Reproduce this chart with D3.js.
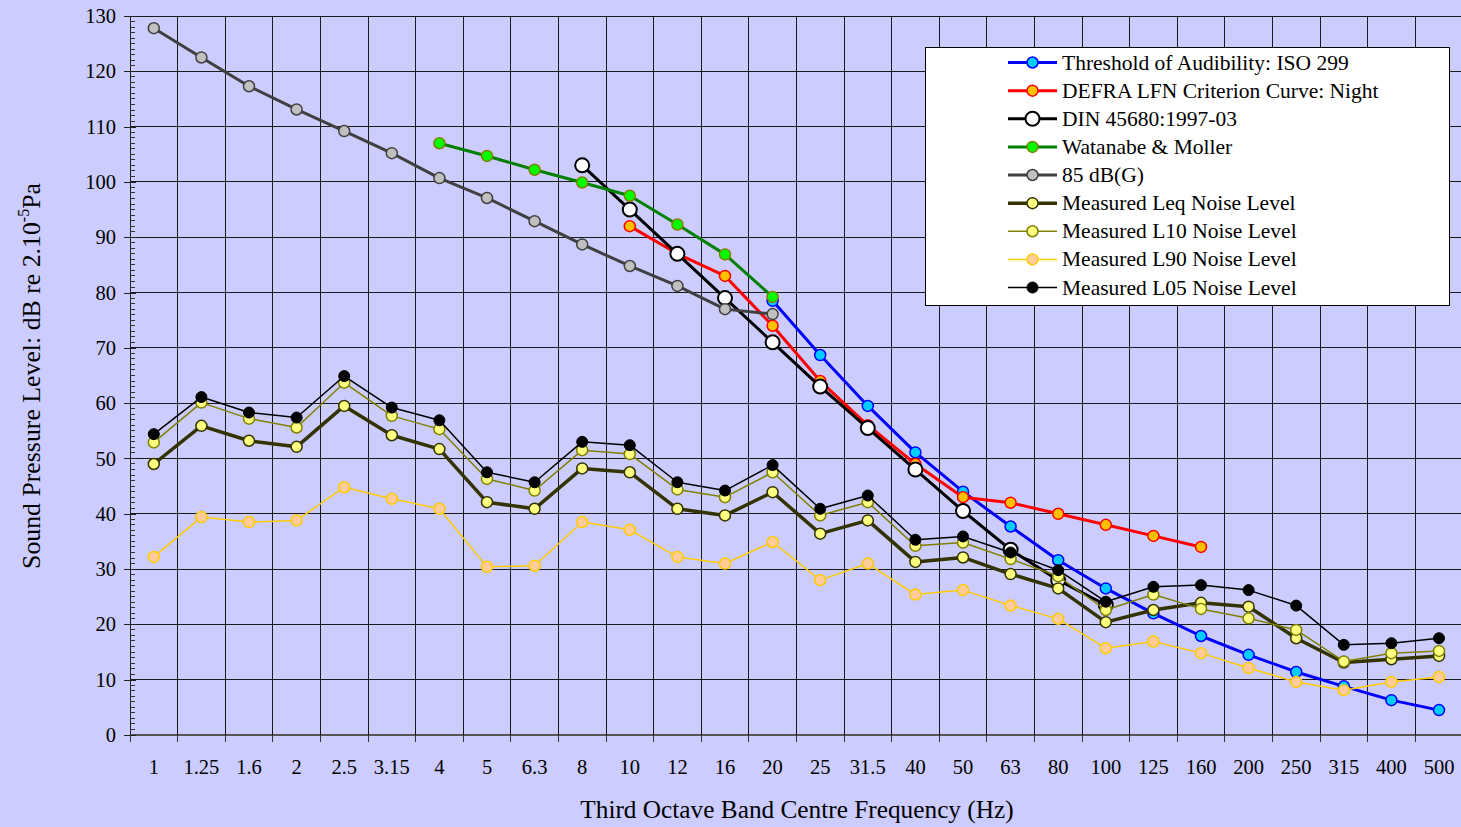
<!DOCTYPE html>
<html><head><meta charset="utf-8">
<script src="https://cdn.jsdelivr.net/npm/d3@7"></script>
<style>
html,body{margin:0;padding:0;background:#ccccff;}
svg{display:block;font-family:"Liberation Serif","Times New Roman",serif;}
</style></head>
<body>
<svg id="chart" width="1461" height="827"></svg>
<script>
const categories = ["1","1.25","1.6","2","2.5","3.15","4","5","6.3","8","10","12","16","20","25","31.5","40","50","63","80","100","125","160","200","250","315","400","500"];
const yTicks = [0,10,20,30,40,50,60,70,80,90,100,110,120,130];

const isoThreshold = [null,null,null,null,null,null,null,null,null,null,null,null,null,78.5,68.7,59.5,51.1,44.0,37.7,31.6,26.5,22.0,17.9,14.5,11.4,8.8,6.3,4.5];
const defraNight   = [null,null,null,null,null,null,null,null,null,null,92,87,83,74,64,56,49,43,42,40,38,36,34,null,null,null,null,null];
const din45680     = [null,null,null,null,null,null,null,null,null,103,95,87,79,71,63,55.5,48,40.5,33.5,28,23.5,null,null,null,null,null,null,null];
const watanabe     = [null,null,null,null,null,null,107,104.7,102.2,99.9,97.5,92.3,86.9,79.2,null,null,null,null,null,null,null,null,null,null,null,null,null,null];
const g85          = [127.8,122.5,117.3,113.1,109.2,105.2,100.7,97.1,92.9,88.7,84.8,81.2,77.0,76.1,null,null,null,null,null,null,null,null,null,null,null,null,null,null];
const leq          = [49.0,55.9,53.2,52.1,59.5,54.2,51.7,42.1,40.9,48.2,47.5,40.9,39.7,43.9,36.4,38.8,31.3,32.1,29.1,26.5,20.4,22.6,23.9,23.2,17.5,13.1,13.7,14.3];
const l10          = [52.9,60.1,57.2,55.6,63.7,57.7,55.3,46.3,44.2,51.5,50.8,44.4,43.0,47.5,39.7,42.1,34.2,34.8,31.8,28.7,22.6,25.4,22.8,21.1,19.0,13.3,14.8,15.2];
const l90          = [32.2,39.4,38.5,38.8,44.8,42.7,40.9,30.4,30.6,38.5,37.1,32.2,31.0,34.9,28.0,31.0,25.4,26.2,23.4,21.0,15.7,16.9,14.8,12.1,9.6,8.1,9.6,10.5];
const l05          = [54.4,61.1,58.3,57.4,64.9,59.2,56.9,47.5,45.7,53.0,52.4,45.7,44.2,48.8,40.9,43.3,35.3,35.9,33.0,29.8,24.1,26.8,27.1,26.2,23.4,16.3,16.6,17.5];

const seriesNames = ["Threshold of Audibility: ISO 299","DEFRA LFN Criterion Curve: Night","DIN 45680:1997-03","Watanabe & Moller","85 dB(G)","Measured Leq Noise Level","Measured L10 Noise Level","Measured L90 Noise Level","Measured L05 Noise Level"];

const styles = [
  {line:"#0000ff", w:3,   fill:"#00ccff", stroke:"#0000ff", sw:1.5, r:5.5},
  {line:"#ff0000", w:3,   fill:"#ffc000", stroke:"#ff0000", sw:1.5, r:5.5},
  {line:"#000000", w:3,   fill:"#ffffff", stroke:"#000000", sw:2,   r:7},
  {line:"#008000", w:3,   fill:"#00ff00", stroke:"#808000", sw:1.5, r:5.5},
  {line:"#404040", w:3,   fill:"#c0c0c0", stroke:"#404040", sw:1.5, r:5.5},
  {line:"#333300", w:3.5, fill:"#ffff80", stroke:"#333300", sw:1.5, r:5.5},
  {line:"#808000", w:1.5, fill:"#ffff80", stroke:"#808000", sw:1.5, r:5.5},
  {line:"#ffcc00", w:1.5, fill:"#ffcc99", stroke:"#ffcc00", sw:1.5, r:5.5},
  {line:"#000000", w:1.5, fill:"#000000", stroke:"#000000", sw:1,   r:5.5}
];
const seriesData = [isoThreshold, defraNight, din45680, watanabe, g85, leq, l10, l90, l05];

const svg = d3.select("#chart");
const pLeft = 130, pTop = 16, pBottom = 735, bandW = 47.6;
const pRight = pLeft + categories.length * bandW;

const x = d3.scaleBand().domain(categories).range([pLeft, pRight]).paddingInner(0).paddingOuter(0);
const y = d3.scaleLinear().domain([0,130]).range([pBottom, pTop]);
const cx = c => x(c) + x.bandwidth()/2;

svg.append("rect").attr("x",0).attr("y",0).attr("width",1461).attr("height",827).attr("fill","#ccccff");

// grid
const grid = svg.append("g").attr("shape-rendering","crispEdges");
grid.selectAll("line.h").data(yTicks).enter().append("line")
  .attr("x1",pLeft).attr("x2",pRight).attr("y1",d=>y(d)).attr("y2",d=>y(d))
  .attr("stroke",d=>d===0?"#555":"#1a1a1a").attr("stroke-width",d=>d===0?2:1);
grid.selectAll("line.v").data(categories.slice(1)).enter().append("line")
  .attr("x1",d=>x(d)).attr("x2",d=>x(d)).attr("y1",pTop).attr("y2",pBottom)
  .attr("stroke","#1a1a1a").attr("stroke-width",1);

// y axis
const yAxis = d3.axisLeft(y).tickValues(yTicks).tickSize(6).tickPadding(8);
const ya = svg.append("g").attr("transform",`translate(${pLeft},0)`).call(yAxis);
ya.select(".domain").attr("stroke","#222").attr("shape-rendering","crispEdges");
ya.selectAll(".tick line").attr("stroke","#222").attr("x2",-6).attr("x1",6).attr("shape-rendering","crispEdges");
ya.selectAll("text").attr("font-size","20.5px").attr("fill","#000").attr("font-family","Liberation Serif");
// minor ticks
svg.append("g").attr("shape-rendering","crispEdges").selectAll("line").data(d3.range(0,131,1).filter(v=>v%10!==0)).enter()
  .append("line").attr("x1",pLeft).attr("x2",pLeft+5).attr("y1",d=>y(d)).attr("y2",d=>y(d)).attr("stroke","#333");

// x axis
const xAxis = d3.axisBottom(x).tickSize(0).tickPadding(24);
const xa = svg.append("g").attr("transform",`translate(0,${pBottom})`).call(xAxis);
xa.select(".domain").remove();
xa.selectAll("text").attr("font-size","20.5px").attr("fill","#000").attr("font-family","Liberation Serif");
svg.append("g").attr("shape-rendering","crispEdges").selectAll("line").data(categories).enter().append("line")
  .attr("x1",d=>x(d)).attr("x2",d=>x(d)).attr("y1",pBottom).attr("y2",pBottom+7).attr("stroke","#333");

// series
const lineGen = d3.line().defined(d=>d.v!==null).x(d=>cx(d.c)).y(d=>y(d.v));
seriesData.forEach((arr,i)=>{
  const st = styles[i];
  const pts = categories.map((c,j)=>({c, v:arr[j]}));
  const g = svg.append("g");
  g.append("path").datum(pts).attr("d",lineGen).attr("fill","none")
    .attr("stroke",st.line).attr("stroke-width",st.w).attr("stroke-linejoin","round");
  g.selectAll("circle").data(pts.filter(d=>d.v!==null)).enter().append("circle")
    .attr("cx",d=>cx(d.c)).attr("cy",d=>y(d.v)).attr("r",st.r)
    .attr("fill",st.fill).attr("stroke",st.stroke).attr("stroke-width",st.sw);
});

// legend
const lg = svg.append("g");
lg.append("rect").attr("x",925.5).attr("y",47.5).attr("width",524).attr("height",258)
  .attr("fill","#ffffff").attr("stroke","#000").attr("stroke-width",1);
const rowY = d3.scaleLinear().domain([0,8]).range([62.5,287.5]);
seriesNames.forEach((name,i)=>{
  const st = styles[i], yy = rowY(i);
  lg.append("line").attr("x1",1008).attr("x2",1057).attr("y1",yy).attr("y2",yy)
    .attr("stroke",st.line).attr("stroke-width",st.w);
  lg.append("circle").attr("cx",1032.5).attr("cy",yy).attr("r",st.r)
    .attr("fill",st.fill).attr("stroke",st.stroke).attr("stroke-width",st.sw);
  lg.append("text").attr("x",1062).attr("y",yy+7).attr("font-size","21.5px").attr("fill","#000").text(name);
});

// axis titles
svg.append("text").attr("x",797).attr("y",818).attr("text-anchor","middle")
  .attr("font-size","25.3px").attr("fill","#000").text("Third Octave Band Centre Frequency (Hz)");
const yt = svg.append("text").attr("transform","translate(40,376) rotate(-90)").attr("text-anchor","middle")
  .attr("font-size","25.8px").attr("fill","#000");
yt.append("tspan").text("Sound Pressure Level: dB re 2.10");
yt.append("tspan").attr("dy",-11).attr("font-size","16px").text("-5");
yt.append("tspan").attr("dy",11).text("Pa");
</script>
</body></html>
